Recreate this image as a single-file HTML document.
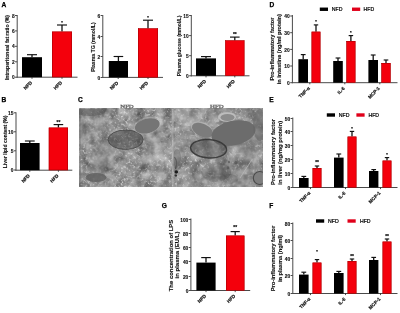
<!DOCTYPE html><html><head><meta charset="utf-8"><style>html,body{margin:0;padding:0;background:#fff;overflow:hidden}svg{display:block;filter:blur(0.3px)}</style></head><body><svg width="400" height="313" viewBox="0 0 400 313" font-family='"Liberation Sans", sans-serif'>
<rect width="400" height="313" fill="#fff"/>
<defs><filter id="tx" x="0" y="0" width="1" height="1" color-interpolation-filters="sRGB">
<feTurbulence type="fractalNoise" baseFrequency="0.11" numOctaves="3" seed="7" result="n"/>
<feColorMatrix in="n" type="matrix" values="0.5 0.5 0 0 0  0.5 0.5 0 0 0  0.5 0.5 0 0 0  0 0 0 0 1" result="g"/>
<feComponentTransfer in="g" result="base"><feFuncR type="linear" slope="0.75" intercept="0.175"/><feFuncG type="linear" slope="0.75" intercept="0.175"/><feFuncB type="linear" slope="0.75" intercept="0.175"/></feComponentTransfer>
<feTurbulence type="fractalNoise" baseFrequency="0.42" numOctaves="2" seed="21" result="s"/>
<feColorMatrix in="s" type="matrix" values="0 0 0 0 0.92  0 0 0 0 0.92  0 0 0 0 0.92  1 0 0 0 0" result="sa"/>
<feComponentTransfer in="sa" result="sp"><feFuncA type="table" tableValues="0 0 0 0 0.15 0.6 0.9 1"/></feComponentTransfer>
<feTurbulence type="fractalNoise" baseFrequency="0.035" numOctaves="2" seed="5" result="mn"/>
<feColorMatrix in="mn" type="matrix" values="0 0 0 0 0  0 0 0 0 0  0 0 0 0 0  0 1 0 0 0" result="ma"/>
<feComponentTransfer in="ma" result="mask"><feFuncA type="table" tableValues="0 0.1 0.5 1 1"/></feComponentTransfer>
<feComposite in="sp" in2="mask" operator="in" result="spm"/>
<feMerge result="m"><feMergeNode in="base"/><feMergeNode in="spm"/></feMerge>
<feGaussianBlur in="m" stdDeviation="0.3"/>
</filter><filter id="tx2" x="0" y="0" width="1" height="1" color-interpolation-filters="sRGB">
<feTurbulence type="fractalNoise" baseFrequency="0.1" numOctaves="3" seed="11" result="n"/>
<feColorMatrix in="n" type="matrix" values="0.5 0.5 0 0 0  0.5 0.5 0 0 0  0.5 0.5 0 0 0  0 0 0 0 1" result="g"/>
<feComponentTransfer in="g" result="base"><feFuncR type="linear" slope="0.65" intercept="0.235"/><feFuncG type="linear" slope="0.65" intercept="0.235"/><feFuncB type="linear" slope="0.65" intercept="0.235"/></feComponentTransfer>
<feTurbulence type="fractalNoise" baseFrequency="0.4" numOctaves="2" seed="31" result="s"/>
<feColorMatrix in="s" type="matrix" values="0 0 0 0 0.92  0 0 0 0 0.92  0 0 0 0 0.92  1 0 0 0 0" result="sa"/>
<feComponentTransfer in="sa" result="sp"><feFuncA type="table" tableValues="0 0 0 0 0.1 0.5 0.8 0.9"/></feComponentTransfer>
<feTurbulence type="fractalNoise" baseFrequency="0.035" numOctaves="2" seed="9" result="mn"/>
<feColorMatrix in="mn" type="matrix" values="0 0 0 0 0  0 0 0 0 0  0 0 0 0 0  0 1 0 0 0" result="ma"/>
<feComponentTransfer in="ma" result="mask"><feFuncA type="table" tableValues="0 0.1 0.5 1 1"/></feComponentTransfer>
<feComposite in="sp" in2="mask" operator="in" result="spm"/>
<feMerge result="m"><feMergeNode in="base"/><feMergeNode in="spm"/></feMerge>
<feGaussianBlur in="m" stdDeviation="0.3"/>
</filter><filter id="bl" x="-20%" y="-20%" width="140%" height="140%"><feGaussianBlur stdDeviation="0.6"/></filter>
<clipPath id="c1"><rect x="79" y="108.8" width="93.8" height="77.4"/></clipPath>
<clipPath id="c2"><rect x="172.8" y="108.8" width="90" height="77.4"/></clipPath>
</defs>
<rect x="79" y="108.8" width="93.8" height="77.4" filter="url(#tx)"/>
<rect x="172.8" y="108.8" width="90" height="77.4" filter="url(#tx2)"/>
<g clip-path="url(#c1)" filter="url(#bl)">
<ellipse cx="124" cy="154" rx="7" ry="4" fill="#fff" opacity="0.16"/>
<ellipse cx="90" cy="141" rx="10" ry="9" fill="#fff" opacity="0.07"/>
<ellipse cx="113" cy="117" rx="7" ry="5" fill="#fff" opacity="0.06"/>
<ellipse cx="161" cy="156" rx="12" ry="24" fill="#fff" opacity="0.13"/>
<ellipse cx="90" cy="111.5" rx="15" ry="4.5" fill="#5a5a5a" opacity="0.6"/>
<rect x="79" y="108.8" width="2" height="78" fill="#666" opacity="0.4"/>
<ellipse cx="125.6" cy="139.7" rx="17.5" ry="9.7" fill="#484848" fill-opacity="0.5" stroke="#4a4a4a" stroke-width="1" stroke-opacity="0.9"/>
<ellipse cx="147" cy="125.5" rx="13.8" ry="8.2" fill="#bbb" opacity="0.4" transform="rotate(-14 147 125.5)"/>
<ellipse cx="147.3" cy="125.9" rx="12.6" ry="7.2" fill="#747474" transform="rotate(-14 147.3 125.9)"/>
<ellipse cx="96" cy="177.5" rx="10.5" ry="4.5" fill="#5e5e5e" opacity="0.8"/>
<rect x="171.8" y="108.8" width="1.4" height="78" fill="#c4c4c4" opacity="0.6"/>
</g>
<g clip-path="url(#c2)" filter="url(#bl)">
<ellipse cx="247" cy="113" rx="9" ry="5" fill="#000" opacity="0.18"/>
<ellipse cx="221" cy="161" rx="6" ry="4" fill="#000" opacity="0.1"/>
<ellipse cx="229" cy="179" rx="9" ry="5" fill="#000" opacity="0.1"/>
<ellipse cx="216" cy="172" rx="15" ry="10" fill="#000" opacity="0.15"/>
<ellipse cx="252" cy="152" rx="8" ry="6" fill="#000" opacity="0.08"/>
<ellipse cx="182" cy="131" rx="8" ry="8" fill="#fff" opacity="0.12"/>
<ellipse cx="187" cy="116" rx="15" ry="10" fill="#fff" opacity="0.2"/>
<ellipse cx="243" cy="168" rx="11" ry="9" fill="#000" opacity="0.06"/>
<ellipse cx="227" cy="117" rx="9" ry="4.8" fill="#bdbdbd"/>
<ellipse cx="227.5" cy="117.5" rx="7" ry="3.4" fill="#8c8c8c"/>
<ellipse cx="202.3" cy="129.5" rx="12" ry="7" fill="#b5b5b5" opacity="0.7" transform="rotate(25 202.3 129.5)"/>
<ellipse cx="202.5" cy="130.2" rx="11.3" ry="6.3" fill="#7c7c7c" transform="rotate(25 202.5 130.2)"/>
<ellipse cx="233.5" cy="133" rx="22.4" ry="12.2" fill="#6c6c6c" transform="rotate(-12 233.5 133)"/>
<ellipse cx="208.6" cy="148.8" rx="18" ry="9.2" fill="#555" fill-opacity="0.45" stroke="#333" stroke-width="1.5" stroke-opacity="0.85" transform="rotate(4 208.6 148.8)"/>
<path d="M174.5 157 Q178 162 175.5 169" fill="none" stroke="#444" stroke-width="1.2" opacity="0.8"/>
<circle cx="176.3" cy="172" r="1.8" fill="#1e1e1e"/>
<circle cx="175.8" cy="175.5" r="1.3" fill="#333"/>
<circle cx="259.8" cy="178" r="6.5" fill="#7e7e7e" stroke="#4a4a4a" stroke-width="1.1"/>
<ellipse cx="260" cy="125" rx="7" ry="16" fill="#666" opacity="0.6"/>
<ellipse cx="177" cy="158" rx="4" ry="9" fill="#666" opacity="0.5"/>
<circle cx="236" cy="162.7" r="1.6" fill="#555" opacity="0.8"/>
<circle cx="228" cy="168" r="1.4" fill="#555" opacity="0.8"/>
<circle cx="229" cy="162" r="1.2" fill="#555" opacity="0.7"/>
<line x1="252.4" y1="159" x2="240" y2="178" stroke="#bbb" stroke-width="0.9" opacity="0.8"/>
<rect x="172.8" y="108.8" width="1" height="78" fill="#bbb" opacity="0.4"/>
</g>
<text x="127" y="108.2" font-size="4.6" text-anchor="middle" fill="#fff" stroke="#555" stroke-width="0.35" textLength="13.4" lengthAdjust="spacingAndGlyphs" font-family="Liberation Serif, serif">NFD</text>
<text x="216.9" y="108.2" font-size="4.6" text-anchor="middle" fill="#fff" stroke="#555" stroke-width="0.35" textLength="13.6" lengthAdjust="spacingAndGlyphs" font-family="Liberation Serif, serif">HFD</text>

<text x="4.0" y="6.86" font-size="6.6" text-anchor="middle" font-weight="bold" fill="#000" stroke="#000" stroke-width="0.25">A</text>
<text x="3.9" y="101.66" font-size="6.6" text-anchor="middle" font-weight="bold" fill="#000" stroke="#000" stroke-width="0.25">B</text>
<text x="80.5" y="101.66" font-size="6.6" text-anchor="middle" font-weight="bold" fill="#000" stroke="#000" stroke-width="0.25">C</text>
<text x="271.8" y="6.76" font-size="6.6" text-anchor="middle" font-weight="bold" fill="#000" stroke="#000" stroke-width="0.25">D</text>
<text x="271.4" y="101.56" font-size="6.6" text-anchor="middle" font-weight="bold" fill="#000" stroke="#000" stroke-width="0.25">E</text>
<text x="271.2" y="208.06" font-size="6.6" text-anchor="middle" font-weight="bold" fill="#000" stroke="#000" stroke-width="0.25">F</text>
<text x="164.3" y="208.26" font-size="6.6" text-anchor="middle" font-weight="bold" fill="#000" stroke="#000" stroke-width="0.25">G</text>
<line x1="17.2" y1="15" x2="17.2" y2="77.7" stroke="#4a4a4a" stroke-width="1"/>
<line x1="16.7" y1="77.2" x2="77.5" y2="77.2" stroke="#4a4a4a" stroke-width="1"/>
<line x1="15.0" y1="77.2" x2="17.2" y2="77.2" stroke="#4a4a4a" stroke-width="1"/>
<text x="14.6" y="79.3" font-size="4.8" text-anchor="end" font-weight="bold" fill="#111" stroke="#111" stroke-width="0.12">0</text>
<line x1="15.0" y1="61.8" x2="17.2" y2="61.8" stroke="#4a4a4a" stroke-width="1"/>
<text x="14.6" y="63.9" font-size="4.8" text-anchor="end" font-weight="bold" fill="#111" stroke="#111" stroke-width="0.12">2</text>
<line x1="15.0" y1="46.3" x2="17.2" y2="46.3" stroke="#4a4a4a" stroke-width="1"/>
<text x="14.6" y="48.4" font-size="4.8" text-anchor="end" font-weight="bold" fill="#111" stroke="#111" stroke-width="0.12">4</text>
<line x1="15.0" y1="30.9" x2="17.2" y2="30.9" stroke="#4a4a4a" stroke-width="1"/>
<text x="14.6" y="33.0" font-size="4.8" text-anchor="end" font-weight="bold" fill="#111" stroke="#111" stroke-width="0.12">6</text>
<line x1="15.0" y1="15.5" x2="17.2" y2="15.5" stroke="#4a4a4a" stroke-width="1"/>
<text x="14.6" y="17.6" font-size="4.8" text-anchor="end" font-weight="bold" fill="#111" stroke="#111" stroke-width="0.12">8</text>
<line x1="32.0" y1="54.7" x2="32.0" y2="57.2" stroke="#111" stroke-width="1.3"/>
<line x1="27.0" y1="54.7" x2="37.0" y2="54.7" stroke="#111" stroke-width="1.15"/>
<rect x="22" y="57.2" width="20" height="20.0" fill="#000"/>
<line x1="62.0" y1="25" x2="62.0" y2="31.6" stroke="#111" stroke-width="1.3"/>
<line x1="57.0" y1="25" x2="67.0" y2="25" stroke="#111" stroke-width="1.15"/>
<rect x="52" y="31.6" width="20" height="45.6" fill="#f4000c"/>
<rect x="52.25" y="31.85" width="19.5" height="45.1" fill="none" stroke="#900" stroke-width="0.5"/>
<text x="62.0" y="24.08" font-size="4.1" text-anchor="middle" font-weight="bold" fill="#111" stroke="#111" stroke-width="0.2">*</text>
<line x1="32" y1="77.2" x2="32" y2="78.8" stroke="#222" stroke-width="0.8"/>
<text x="0" y="0" font-size="4.7" text-anchor="end" font-weight="bold" fill="#111" stroke="#111" stroke-width="0.2" transform="translate(32.4,83.10000000000001) rotate(-45)">NFD</text>
<line x1="62" y1="77.2" x2="62" y2="78.8" stroke="#222" stroke-width="0.8"/>
<text x="0" y="0" font-size="4.7" text-anchor="end" font-weight="bold" fill="#111" stroke="#111" stroke-width="0.2" transform="translate(62.4,83.10000000000001) rotate(-45)">HFD</text>
<text x="0" y="0" font-size="5" text-anchor="middle" font-weight="bold" fill="#111" stroke="#111" stroke-width="0.12" textLength="65" lengthAdjust="spacingAndGlyphs" transform="translate(9.2,47.5) rotate(-90)">Intraperitoneal fat ratio (%)</text>
<line x1="102.8" y1="15" x2="102.8" y2="77.9" stroke="#4a4a4a" stroke-width="1"/>
<line x1="102.3" y1="77.4" x2="163" y2="77.4" stroke="#4a4a4a" stroke-width="1"/>
<line x1="100.6" y1="77.5" x2="102.8" y2="77.5" stroke="#4a4a4a" stroke-width="1"/>
<text x="100.2" y="79.6" font-size="4.8" text-anchor="end" font-weight="bold" fill="#111" stroke="#111" stroke-width="0.12">0</text>
<line x1="100.6" y1="56.5" x2="102.8" y2="56.5" stroke="#4a4a4a" stroke-width="1"/>
<text x="100.2" y="58.6" font-size="4.8" text-anchor="end" font-weight="bold" fill="#111" stroke="#111" stroke-width="0.12">2</text>
<line x1="100.6" y1="36.5" x2="102.8" y2="36.5" stroke="#4a4a4a" stroke-width="1"/>
<text x="100.2" y="38.6" font-size="4.8" text-anchor="end" font-weight="bold" fill="#111" stroke="#111" stroke-width="0.12">4</text>
<line x1="100.6" y1="15.5" x2="102.8" y2="15.5" stroke="#4a4a4a" stroke-width="1"/>
<text x="100.2" y="17.6" font-size="4.8" text-anchor="end" font-weight="bold" fill="#111" stroke="#111" stroke-width="0.12">6</text>
<line x1="118.4" y1="56.5" x2="118.4" y2="61" stroke="#111" stroke-width="1.3"/>
<line x1="113.60000000000001" y1="56.5" x2="123.2" y2="56.5" stroke="#111" stroke-width="1.15"/>
<rect x="108.8" y="61" width="19.200000000000003" height="16.400000000000006" fill="#000"/>
<line x1="148.0" y1="20.2" x2="148.0" y2="28.4" stroke="#111" stroke-width="1.3"/>
<line x1="143.0" y1="20.2" x2="153.0" y2="20.2" stroke="#111" stroke-width="1.15"/>
<rect x="138" y="28.4" width="20" height="49.00000000000001" fill="#f4000c"/>
<rect x="138.25" y="28.65" width="19.5" height="48.50000000000001" fill="none" stroke="#900" stroke-width="0.5"/>
<text x="148.0" y="19.38" font-size="4.1" text-anchor="middle" font-weight="bold" fill="#111" stroke="#111" stroke-width="0.2">*</text>
<line x1="118.2" y1="77.4" x2="118.2" y2="79.0" stroke="#222" stroke-width="0.8"/>
<text x="0" y="0" font-size="4.7" text-anchor="end" font-weight="bold" fill="#111" stroke="#111" stroke-width="0.2" transform="translate(118.60000000000001,83.30000000000001) rotate(-45)">NFD</text>
<line x1="148" y1="77.4" x2="148" y2="79.0" stroke="#222" stroke-width="0.8"/>
<text x="0" y="0" font-size="4.7" text-anchor="end" font-weight="bold" fill="#111" stroke="#111" stroke-width="0.2" transform="translate(148.4,83.30000000000001) rotate(-45)">HFD</text>
<text x="0" y="0" font-size="5" text-anchor="middle" font-weight="bold" fill="#111" stroke="#111" stroke-width="0.12" textLength="49.5" lengthAdjust="spacingAndGlyphs" transform="translate(95.2,47.1) rotate(-90)">Plasma TG (mmol/L)</text>
<line x1="191.3" y1="15" x2="191.3" y2="76.3" stroke="#4a4a4a" stroke-width="1"/>
<line x1="190.8" y1="75.8" x2="249.5" y2="75.8" stroke="#4a4a4a" stroke-width="1"/>
<line x1="189.10000000000002" y1="75.8" x2="191.3" y2="75.8" stroke="#4a4a4a" stroke-width="1"/>
<text x="188.70000000000002" y="77.89999999999999" font-size="4.8" text-anchor="end" font-weight="bold" fill="#111" stroke="#111" stroke-width="0.12">0</text>
<line x1="189.10000000000002" y1="55.7" x2="191.3" y2="55.7" stroke="#4a4a4a" stroke-width="1"/>
<text x="188.70000000000002" y="57.800000000000004" font-size="4.8" text-anchor="end" font-weight="bold" fill="#111" stroke="#111" stroke-width="0.12">5</text>
<line x1="189.10000000000002" y1="35.6" x2="191.3" y2="35.6" stroke="#4a4a4a" stroke-width="1"/>
<text x="188.70000000000002" y="37.7" font-size="4.8" text-anchor="end" font-weight="bold" fill="#111" stroke="#111" stroke-width="0.12">10</text>
<line x1="189.10000000000002" y1="15.5" x2="191.3" y2="15.5" stroke="#4a4a4a" stroke-width="1"/>
<text x="188.70000000000002" y="17.6" font-size="4.8" text-anchor="end" font-weight="bold" fill="#111" stroke="#111" stroke-width="0.12">15</text>
<line x1="206.0" y1="56.6" x2="206.0" y2="58.4" stroke="#111" stroke-width="1.3"/>
<line x1="201.0" y1="56.6" x2="211.0" y2="56.6" stroke="#111" stroke-width="1.15"/>
<rect x="196" y="58.4" width="20" height="17.4" fill="#000"/>
<line x1="234.8" y1="37.1" x2="234.8" y2="40.4" stroke="#111" stroke-width="1.3"/>
<line x1="230.0" y1="37.1" x2="239.60000000000002" y2="37.1" stroke="#111" stroke-width="1.15"/>
<rect x="225.2" y="40.4" width="19.200000000000017" height="35.4" fill="#f4000c"/>
<rect x="225.45" y="40.65" width="18.700000000000017" height="34.9" fill="none" stroke="#900" stroke-width="0.5"/>
<text x="234.8" y="35.88" font-size="4.8" text-anchor="middle" font-weight="bold" fill="#111" stroke="#111" stroke-width="0.2">**</text>
<line x1="206" y1="75.8" x2="206" y2="77.39999999999999" stroke="#222" stroke-width="0.8"/>
<text x="0" y="0" font-size="4.7" text-anchor="end" font-weight="bold" fill="#111" stroke="#111" stroke-width="0.2" transform="translate(206.4,81.7) rotate(-45)">NFD</text>
<line x1="234.8" y1="75.8" x2="234.8" y2="77.39999999999999" stroke="#222" stroke-width="0.8"/>
<text x="0" y="0" font-size="4.7" text-anchor="end" font-weight="bold" fill="#111" stroke="#111" stroke-width="0.2" transform="translate(235.20000000000002,81.7) rotate(-45)">HFD</text>
<text x="0" y="0" font-size="5" text-anchor="middle" font-weight="bold" fill="#111" stroke="#111" stroke-width="0.12" textLength="60.5" lengthAdjust="spacingAndGlyphs" transform="translate(180.8,45.9) rotate(-90)">Plasma glucose (mmol/L)</text>
<line x1="16" y1="112.3" x2="16" y2="170.7" stroke="#4a4a4a" stroke-width="1"/>
<line x1="15.5" y1="170.2" x2="72.3" y2="170.2" stroke="#4a4a4a" stroke-width="1"/>
<line x1="13.8" y1="170.0" x2="16" y2="170.0" stroke="#4a4a4a" stroke-width="1"/>
<text x="13.4" y="172.1" font-size="4.8" text-anchor="end" font-weight="bold" fill="#111" stroke="#111" stroke-width="0.12">0</text>
<line x1="13.8" y1="150.8" x2="16" y2="150.8" stroke="#4a4a4a" stroke-width="1"/>
<text x="13.4" y="152.9" font-size="4.8" text-anchor="end" font-weight="bold" fill="#111" stroke="#111" stroke-width="0.12">5</text>
<line x1="13.8" y1="131.8" x2="16" y2="131.8" stroke="#4a4a4a" stroke-width="1"/>
<text x="13.4" y="133.9" font-size="4.8" text-anchor="end" font-weight="bold" fill="#111" stroke="#111" stroke-width="0.12">10</text>
<line x1="13.8" y1="112.8" x2="16" y2="112.8" stroke="#4a4a4a" stroke-width="1"/>
<text x="13.4" y="114.89999999999999" font-size="4.8" text-anchor="end" font-weight="bold" fill="#111" stroke="#111" stroke-width="0.12">15</text>
<line x1="29.8" y1="141" x2="29.8" y2="143" stroke="#111" stroke-width="1.3"/>
<line x1="24.9" y1="141" x2="34.7" y2="141" stroke="#111" stroke-width="1.15"/>
<rect x="20" y="143" width="19.6" height="27.19999999999999" fill="#000"/>
<line x1="58.4" y1="124.6" x2="58.4" y2="127.6" stroke="#111" stroke-width="1.3"/>
<line x1="53.599999999999994" y1="124.6" x2="63.2" y2="124.6" stroke="#111" stroke-width="1.15"/>
<rect x="48.8" y="127.6" width="19.200000000000003" height="42.599999999999994" fill="#f4000c"/>
<rect x="49.05" y="127.85" width="18.700000000000003" height="42.099999999999994" fill="none" stroke="#900" stroke-width="0.5"/>
<text x="58.4" y="123.78" font-size="4.8" text-anchor="middle" font-weight="bold" fill="#111" stroke="#111" stroke-width="0.2">**</text>
<line x1="29.8" y1="170.2" x2="29.8" y2="171.79999999999998" stroke="#222" stroke-width="0.8"/>
<text x="0" y="0" font-size="4.7" text-anchor="end" font-weight="bold" fill="#111" stroke="#111" stroke-width="0.2" transform="translate(30.2,176.1) rotate(-45)">NFD</text>
<line x1="58.4" y1="170.2" x2="58.4" y2="171.79999999999998" stroke="#222" stroke-width="0.8"/>
<text x="0" y="0" font-size="4.7" text-anchor="end" font-weight="bold" fill="#111" stroke="#111" stroke-width="0.2" transform="translate(58.8,176.1) rotate(-45)">HFD</text>
<text x="0" y="0" font-size="5" text-anchor="middle" font-weight="bold" fill="#111" stroke="#111" stroke-width="0.12" textLength="52.5" lengthAdjust="spacingAndGlyphs" transform="translate(6.8,141.9) rotate(-90)">Liver lipid content (%)</text>
<line x1="190.9" y1="218.5" x2="190.9" y2="291.0" stroke="#4a4a4a" stroke-width="1"/>
<line x1="190.4" y1="290.5" x2="250.2" y2="290.5" stroke="#4a4a4a" stroke-width="1"/>
<line x1="188.70000000000002" y1="290.5" x2="190.9" y2="290.5" stroke="#4a4a4a" stroke-width="1"/>
<text x="188.3" y="292.6" font-size="4.8" text-anchor="end" font-weight="bold" fill="#111" stroke="#111" stroke-width="0.12">0</text>
<line x1="188.70000000000002" y1="276.5" x2="190.9" y2="276.5" stroke="#4a4a4a" stroke-width="1"/>
<text x="188.3" y="278.6" font-size="4.8" text-anchor="end" font-weight="bold" fill="#111" stroke="#111" stroke-width="0.12">20</text>
<line x1="188.70000000000002" y1="261.5" x2="190.9" y2="261.5" stroke="#4a4a4a" stroke-width="1"/>
<text x="188.3" y="263.6" font-size="4.8" text-anchor="end" font-weight="bold" fill="#111" stroke="#111" stroke-width="0.12">40</text>
<line x1="188.70000000000002" y1="247.5" x2="190.9" y2="247.5" stroke="#4a4a4a" stroke-width="1"/>
<text x="188.3" y="249.6" font-size="4.8" text-anchor="end" font-weight="bold" fill="#111" stroke="#111" stroke-width="0.12">60</text>
<line x1="188.70000000000002" y1="233.5" x2="190.9" y2="233.5" stroke="#4a4a4a" stroke-width="1"/>
<text x="188.3" y="235.6" font-size="4.8" text-anchor="end" font-weight="bold" fill="#111" stroke="#111" stroke-width="0.12">80</text>
<line x1="188.70000000000002" y1="219.5" x2="190.9" y2="219.5" stroke="#4a4a4a" stroke-width="1"/>
<text x="188.3" y="221.6" font-size="4.8" text-anchor="end" font-weight="bold" fill="#111" stroke="#111" stroke-width="0.12">100</text>
<line x1="206.0" y1="257.6" x2="206.0" y2="262.6" stroke="#111" stroke-width="1.3"/>
<line x1="201.2" y1="257.6" x2="210.8" y2="257.6" stroke="#111" stroke-width="1.15"/>
<rect x="196.4" y="262.6" width="19.19999999999999" height="27.899999999999977" fill="#000"/>
<line x1="235.2" y1="231.6" x2="235.2" y2="235.6" stroke="#111" stroke-width="1.3"/>
<line x1="230.6" y1="231.6" x2="239.79999999999998" y2="231.6" stroke="#111" stroke-width="1.15"/>
<rect x="226" y="235.6" width="18.400000000000006" height="54.900000000000006" fill="#f4000c"/>
<rect x="226.25" y="235.85" width="17.900000000000006" height="54.400000000000006" fill="none" stroke="#900" stroke-width="0.5"/>
<text x="235.2" y="229.38" font-size="4.8" text-anchor="middle" font-weight="bold" fill="#111" stroke="#111" stroke-width="0.2">**</text>
<line x1="206" y1="290.5" x2="206" y2="292.1" stroke="#222" stroke-width="0.8"/>
<text x="0" y="0" font-size="4.7" text-anchor="end" font-weight="bold" fill="#111" stroke="#111" stroke-width="0.2" transform="translate(206.4,296.4) rotate(-45)">NFD</text>
<line x1="235.2" y1="290.5" x2="235.2" y2="292.1" stroke="#222" stroke-width="0.8"/>
<text x="0" y="0" font-size="4.7" text-anchor="end" font-weight="bold" fill="#111" stroke="#111" stroke-width="0.2" transform="translate(235.6,296.4) rotate(-45)">HFD</text>
<text x="0" y="0" font-size="5" text-anchor="middle" font-weight="bold" fill="#111" stroke="#111" stroke-width="0.12" textLength="71.5" lengthAdjust="spacingAndGlyphs" transform="translate(172.5,255.5) rotate(-90)">The concentration of LPS</text>
<text x="0" y="0" font-size="5" text-anchor="middle" font-weight="bold" fill="#111" stroke="#111" stroke-width="0.12" textLength="47" lengthAdjust="spacingAndGlyphs" transform="translate(179.3,255) rotate(-90)">in plasma (EU/L)</text>
<line x1="292.4" y1="15" x2="292.4" y2="83.2" stroke="#4a4a4a" stroke-width="1"/>
<line x1="291.9" y1="82.7" x2="397.5" y2="82.7" stroke="#4a4a4a" stroke-width="1"/>
<line x1="290.2" y1="82.7" x2="292.4" y2="82.7" stroke="#4a4a4a" stroke-width="1"/>
<text x="289.79999999999995" y="84.8" font-size="4.9" text-anchor="end" font-weight="bold" fill="#111" stroke="#111" stroke-width="0.12">0</text>
<line x1="290.2" y1="66.0" x2="292.4" y2="66.0" stroke="#4a4a4a" stroke-width="1"/>
<text x="289.79999999999995" y="68.1" font-size="4.9" text-anchor="end" font-weight="bold" fill="#111" stroke="#111" stroke-width="0.12">10</text>
<line x1="290.2" y1="49.4" x2="292.4" y2="49.4" stroke="#4a4a4a" stroke-width="1"/>
<text x="289.79999999999995" y="51.5" font-size="4.9" text-anchor="end" font-weight="bold" fill="#111" stroke="#111" stroke-width="0.12">20</text>
<line x1="290.2" y1="32.7" x2="292.4" y2="32.7" stroke="#4a4a4a" stroke-width="1"/>
<text x="289.79999999999995" y="34.800000000000004" font-size="4.9" text-anchor="end" font-weight="bold" fill="#111" stroke="#111" stroke-width="0.12">30</text>
<line x1="290.2" y1="16.0" x2="292.4" y2="16.0" stroke="#4a4a4a" stroke-width="1"/>
<text x="289.79999999999995" y="18.1" font-size="4.9" text-anchor="end" font-weight="bold" fill="#111" stroke="#111" stroke-width="0.12">40</text>
<line x1="303.2" y1="54.6" x2="303.2" y2="59.2" stroke="#111" stroke-width="1.3"/>
<line x1="300.79999999999995" y1="54.6" x2="305.6" y2="54.6" stroke="#111" stroke-width="1.15"/>
<rect x="298.4" y="59.2" width="9.600000000000023" height="23.5" fill="#000"/>
<line x1="316.0" y1="24.9" x2="316.0" y2="31.7" stroke="#111" stroke-width="1.3"/>
<line x1="313.8" y1="24.9" x2="318.2" y2="24.9" stroke="#111" stroke-width="1.15"/>
<rect x="311.6" y="31.7" width="8.799999999999955" height="51.0" fill="#f4000c"/>
<rect x="311.85" y="31.95" width="8.299999999999955" height="50.5" fill="none" stroke="#900" stroke-width="0.5"/>
<text x="316.0" y="23.38" font-size="4.1" text-anchor="middle" font-weight="bold" fill="#111" stroke="#111" stroke-width="0.2">*</text>
<line x1="338.0" y1="58" x2="338.0" y2="61" stroke="#111" stroke-width="1.3"/>
<line x1="335.6" y1="58" x2="340.4" y2="58" stroke="#111" stroke-width="1.15"/>
<rect x="333.2" y="61" width="9.600000000000023" height="21.700000000000003" fill="#000"/>
<line x1="350.9" y1="35.6" x2="350.9" y2="41" stroke="#111" stroke-width="1.3"/>
<line x1="348.65" y1="35.6" x2="353.15" y2="35.6" stroke="#111" stroke-width="1.15"/>
<rect x="346.4" y="41" width="9.0" height="41.7" fill="#f4000c"/>
<rect x="346.65" y="41.25" width="8.5" height="41.2" fill="none" stroke="#900" stroke-width="0.5"/>
<text x="350.9" y="33.68" font-size="4.1" text-anchor="middle" font-weight="bold" fill="#111" stroke="#111" stroke-width="0.2">*</text>
<line x1="373.2" y1="55" x2="373.2" y2="60" stroke="#111" stroke-width="1.3"/>
<line x1="370.79999999999995" y1="55" x2="375.6" y2="55" stroke="#111" stroke-width="1.15"/>
<rect x="368.4" y="60" width="9.600000000000023" height="22.700000000000003" fill="#000"/>
<line x1="386.0" y1="60" x2="386.0" y2="63" stroke="#111" stroke-width="1.3"/>
<line x1="383.7" y1="60" x2="388.3" y2="60" stroke="#111" stroke-width="1.15"/>
<rect x="381.4" y="63" width="9.200000000000045" height="19.700000000000003" fill="#f4000c"/>
<rect x="381.65" y="63.25" width="8.700000000000045" height="19.200000000000003" fill="none" stroke="#900" stroke-width="0.5"/>
<line x1="309.8" y1="82.7" x2="309.8" y2="84.3" stroke="#222" stroke-width="0.8"/>
<text x="0" y="0" font-size="4.7" text-anchor="end" font-weight="bold" fill="#111" stroke="#111" stroke-width="0.2" transform="translate(310.2,88.60000000000001) rotate(-45)">TNF-α</text>
<line x1="344.8" y1="82.7" x2="344.8" y2="84.3" stroke="#222" stroke-width="0.8"/>
<text x="0" y="0" font-size="4.7" text-anchor="end" font-weight="bold" fill="#111" stroke="#111" stroke-width="0.2" transform="translate(345.2,88.60000000000001) rotate(-45)">IL-6</text>
<line x1="379.8" y1="82.7" x2="379.8" y2="84.3" stroke="#222" stroke-width="0.8"/>
<text x="0" y="0" font-size="4.7" text-anchor="end" font-weight="bold" fill="#111" stroke="#111" stroke-width="0.2" transform="translate(380.2,88.60000000000001) rotate(-45)">MCP-1</text>
<text x="0" y="0" font-size="5" text-anchor="middle" font-weight="bold" fill="#111" stroke="#111" stroke-width="0.12" textLength="63" lengthAdjust="spacingAndGlyphs" transform="translate(273.6,49.1) rotate(-90)">Pro-inflammatory factor</text>
<text x="0" y="0" font-size="5" text-anchor="middle" font-weight="bold" fill="#111" stroke="#111" stroke-width="0.12" textLength="70" lengthAdjust="spacingAndGlyphs" transform="translate(280.7,49.2) rotate(-90)">in intestine (ng/ml protein)</text>
<rect x="319.8" y="7.55" width="8.2" height="3.4" fill="#000"/>
<text x="331.8" y="11.1" font-size="5.2" font-weight="normal" fill="#000" stroke="#000" stroke-width="0.2">NFD</text>
<rect x="352.0" y="7.55" width="8.2" height="3.4" fill="#e0001a"/>
<text x="363.6" y="11.1" font-size="5.2" font-weight="normal" fill="#000" stroke="#000" stroke-width="0.2">HFD</text>
<line x1="292.8" y1="117.5" x2="292.8" y2="188.0" stroke="#4a4a4a" stroke-width="1"/>
<line x1="292.3" y1="187.5" x2="397.5" y2="187.5" stroke="#4a4a4a" stroke-width="1"/>
<line x1="290.6" y1="187.5" x2="292.8" y2="187.5" stroke="#4a4a4a" stroke-width="1"/>
<text x="290.2" y="189.6" font-size="4.9" text-anchor="end" font-weight="bold" fill="#111" stroke="#111" stroke-width="0.12">0</text>
<line x1="290.6" y1="173.5" x2="292.8" y2="173.5" stroke="#4a4a4a" stroke-width="1"/>
<text x="290.2" y="175.6" font-size="4.9" text-anchor="end" font-weight="bold" fill="#111" stroke="#111" stroke-width="0.12">10</text>
<line x1="290.6" y1="159.5" x2="292.8" y2="159.5" stroke="#4a4a4a" stroke-width="1"/>
<text x="290.2" y="161.6" font-size="4.9" text-anchor="end" font-weight="bold" fill="#111" stroke="#111" stroke-width="0.12">20</text>
<line x1="290.6" y1="145.5" x2="292.8" y2="145.5" stroke="#4a4a4a" stroke-width="1"/>
<text x="290.2" y="147.6" font-size="4.9" text-anchor="end" font-weight="bold" fill="#111" stroke="#111" stroke-width="0.12">30</text>
<line x1="290.6" y1="131.5" x2="292.8" y2="131.5" stroke="#4a4a4a" stroke-width="1"/>
<text x="290.2" y="133.6" font-size="4.9" text-anchor="end" font-weight="bold" fill="#111" stroke="#111" stroke-width="0.12">40</text>
<line x1="290.6" y1="118.5" x2="292.8" y2="118.5" stroke="#4a4a4a" stroke-width="1"/>
<text x="290.2" y="120.6" font-size="4.9" text-anchor="end" font-weight="bold" fill="#111" stroke="#111" stroke-width="0.12">50</text>
<line x1="303.8" y1="176.4" x2="303.8" y2="178" stroke="#111" stroke-width="1.3"/>
<line x1="301.4" y1="176.4" x2="306.20000000000005" y2="176.4" stroke="#111" stroke-width="1.15"/>
<rect x="299" y="178" width="9.600000000000023" height="9.5" fill="#000"/>
<line x1="317.0" y1="166" x2="317.0" y2="168" stroke="#111" stroke-width="1.3"/>
<line x1="314.8" y1="166" x2="319.2" y2="166" stroke="#111" stroke-width="1.15"/>
<rect x="312.6" y="168" width="8.799999999999955" height="19.5" fill="#f4000c"/>
<rect x="312.85" y="168.25" width="8.299999999999955" height="19.0" fill="none" stroke="#900" stroke-width="0.5"/>
<text x="317.0" y="163.78" font-size="4.8" text-anchor="middle" font-weight="bold" fill="#111" stroke="#111" stroke-width="0.2">**</text>
<line x1="338.8" y1="154" x2="338.8" y2="157.6" stroke="#111" stroke-width="1.3"/>
<line x1="336.4" y1="154" x2="341.20000000000005" y2="154" stroke="#111" stroke-width="1.15"/>
<rect x="334" y="157.6" width="9.600000000000023" height="29.900000000000006" fill="#000"/>
<line x1="352.0" y1="131.4" x2="352.0" y2="136.6" stroke="#111" stroke-width="1.3"/>
<line x1="349.8" y1="131.4" x2="354.2" y2="131.4" stroke="#111" stroke-width="1.15"/>
<rect x="347.6" y="136.6" width="8.799999999999955" height="50.900000000000006" fill="#f4000c"/>
<rect x="347.85" y="136.85" width="8.299999999999955" height="50.400000000000006" fill="none" stroke="#900" stroke-width="0.5"/>
<text x="352.0" y="129.58" font-size="4.1" text-anchor="middle" font-weight="bold" fill="#111" stroke="#111" stroke-width="0.2">*</text>
<line x1="373.7" y1="169.6" x2="373.7" y2="171" stroke="#111" stroke-width="1.3"/>
<line x1="371.35" y1="169.6" x2="376.04999999999995" y2="169.6" stroke="#111" stroke-width="1.15"/>
<rect x="369" y="171" width="9.399999999999977" height="16.5" fill="#000"/>
<line x1="387.0" y1="157.6" x2="387.0" y2="160.6" stroke="#111" stroke-width="1.3"/>
<line x1="384.8" y1="157.6" x2="389.2" y2="157.6" stroke="#111" stroke-width="1.15"/>
<rect x="382.6" y="160.6" width="8.799999999999955" height="26.900000000000006" fill="#f4000c"/>
<rect x="382.85" y="160.85" width="8.299999999999955" height="26.400000000000006" fill="none" stroke="#900" stroke-width="0.5"/>
<text x="387.0" y="156.38" font-size="4.1" text-anchor="middle" font-weight="bold" fill="#111" stroke="#111" stroke-width="0.2">*</text>
<line x1="310.5" y1="187.5" x2="310.5" y2="189.1" stroke="#222" stroke-width="0.8"/>
<text x="0" y="0" font-size="4.7" text-anchor="end" font-weight="bold" fill="#111" stroke="#111" stroke-width="0.2" transform="translate(310.9,193.4) rotate(-45)">TNF-α</text>
<line x1="345.5" y1="187.5" x2="345.5" y2="189.1" stroke="#222" stroke-width="0.8"/>
<text x="0" y="0" font-size="4.7" text-anchor="end" font-weight="bold" fill="#111" stroke="#111" stroke-width="0.2" transform="translate(345.9,193.4) rotate(-45)">IL-6</text>
<line x1="380.5" y1="187.5" x2="380.5" y2="189.1" stroke="#222" stroke-width="0.8"/>
<text x="0" y="0" font-size="4.7" text-anchor="end" font-weight="bold" fill="#111" stroke="#111" stroke-width="0.2" transform="translate(380.9,193.4) rotate(-45)">MCP-1</text>
<text x="0" y="0" font-size="5" text-anchor="middle" font-weight="bold" fill="#111" stroke="#111" stroke-width="0.12" textLength="66" lengthAdjust="spacingAndGlyphs" transform="translate(274.5,151.9) rotate(-90)">Pro-inflammatory factor</text>
<text x="0" y="0" font-size="5" text-anchor="middle" font-weight="bold" fill="#111" stroke="#111" stroke-width="0.12" textLength="64" lengthAdjust="spacingAndGlyphs" transform="translate(281.6,152.7) rotate(-90)">in liver (ng/mg protein)</text>
<rect x="326.8" y="113.3" width="8.2" height="3.4" fill="#000"/>
<text x="338.8" y="116.85" font-size="5.2" font-weight="normal" fill="#000" stroke="#000" stroke-width="0.2">NFD</text>
<rect x="356.40000000000003" y="113.3" width="8.2" height="3.4" fill="#e0001a"/>
<text x="368.40000000000003" y="116.85" font-size="5.2" font-weight="normal" fill="#000" stroke="#000" stroke-width="0.2">HFD</text>
<line x1="292.8" y1="222.5" x2="292.8" y2="294.0" stroke="#4a4a4a" stroke-width="1"/>
<line x1="292.3" y1="293.5" x2="397.5" y2="293.5" stroke="#4a4a4a" stroke-width="1"/>
<line x1="290.6" y1="293.5" x2="292.8" y2="293.5" stroke="#4a4a4a" stroke-width="1"/>
<text x="290.2" y="295.6" font-size="4.9" text-anchor="end" font-weight="bold" fill="#111" stroke="#111" stroke-width="0.12">0</text>
<line x1="290.6" y1="275.5" x2="292.8" y2="275.5" stroke="#4a4a4a" stroke-width="1"/>
<text x="290.2" y="277.6" font-size="4.9" text-anchor="end" font-weight="bold" fill="#111" stroke="#111" stroke-width="0.12">20</text>
<line x1="290.6" y1="258.5" x2="292.8" y2="258.5" stroke="#4a4a4a" stroke-width="1"/>
<text x="290.2" y="260.6" font-size="4.9" text-anchor="end" font-weight="bold" fill="#111" stroke="#111" stroke-width="0.12">40</text>
<line x1="290.6" y1="240.5" x2="292.8" y2="240.5" stroke="#4a4a4a" stroke-width="1"/>
<text x="290.2" y="242.6" font-size="4.9" text-anchor="end" font-weight="bold" fill="#111" stroke="#111" stroke-width="0.12">60</text>
<line x1="290.6" y1="223.5" x2="292.8" y2="223.5" stroke="#4a4a4a" stroke-width="1"/>
<text x="290.2" y="225.6" font-size="4.9" text-anchor="end" font-weight="bold" fill="#111" stroke="#111" stroke-width="0.12">80</text>
<line x1="303.8" y1="272.2" x2="303.8" y2="274.6" stroke="#111" stroke-width="1.3"/>
<line x1="301.4" y1="272.2" x2="306.20000000000005" y2="272.2" stroke="#111" stroke-width="1.15"/>
<rect x="299" y="274.6" width="9.600000000000023" height="18.899999999999977" fill="#000"/>
<line x1="317.0" y1="259.6" x2="317.0" y2="262.6" stroke="#111" stroke-width="1.3"/>
<line x1="314.8" y1="259.6" x2="319.2" y2="259.6" stroke="#111" stroke-width="1.15"/>
<rect x="312.6" y="262.6" width="8.799999999999955" height="30.899999999999977" fill="#f4000c"/>
<rect x="312.85" y="262.85" width="8.299999999999955" height="30.399999999999977" fill="none" stroke="#900" stroke-width="0.5"/>
<text x="317.0" y="253.38" font-size="4.1" text-anchor="middle" font-weight="bold" fill="#111" stroke="#111" stroke-width="0.2">*</text>
<line x1="338.8" y1="271.4" x2="338.8" y2="273" stroke="#111" stroke-width="1.3"/>
<line x1="336.4" y1="271.4" x2="341.20000000000005" y2="271.4" stroke="#111" stroke-width="1.15"/>
<rect x="334" y="273" width="9.600000000000023" height="20.5" fill="#000"/>
<line x1="352.0" y1="259" x2="352.0" y2="261" stroke="#111" stroke-width="1.3"/>
<line x1="349.8" y1="259" x2="354.2" y2="259" stroke="#111" stroke-width="1.15"/>
<rect x="347.6" y="261" width="8.799999999999955" height="32.5" fill="#f4000c"/>
<rect x="347.85" y="261.25" width="8.299999999999955" height="32.0" fill="none" stroke="#900" stroke-width="0.5"/>
<text x="352.0" y="258.18" font-size="4.8" text-anchor="middle" font-weight="bold" fill="#111" stroke="#111" stroke-width="0.2">**</text>
<line x1="373.7" y1="257.4" x2="373.7" y2="260" stroke="#111" stroke-width="1.3"/>
<line x1="371.35" y1="257.4" x2="376.04999999999995" y2="257.4" stroke="#111" stroke-width="1.15"/>
<rect x="369" y="260" width="9.399999999999977" height="33.5" fill="#000"/>
<line x1="387.0" y1="239" x2="387.0" y2="241.6" stroke="#111" stroke-width="1.3"/>
<line x1="384.8" y1="239" x2="389.2" y2="239" stroke="#111" stroke-width="1.15"/>
<rect x="382.6" y="241.6" width="8.799999999999955" height="51.900000000000006" fill="#f4000c"/>
<rect x="382.85" y="241.85" width="8.299999999999955" height="51.400000000000006" fill="none" stroke="#900" stroke-width="0.5"/>
<text x="387.0" y="238.38" font-size="4.8" text-anchor="middle" font-weight="bold" fill="#111" stroke="#111" stroke-width="0.2">**</text>
<line x1="310.5" y1="293.5" x2="310.5" y2="295.1" stroke="#222" stroke-width="0.8"/>
<text x="0" y="0" font-size="4.7" text-anchor="end" font-weight="bold" fill="#111" stroke="#111" stroke-width="0.2" transform="translate(310.9,299.4) rotate(-45)">TNF-α</text>
<line x1="345.5" y1="293.5" x2="345.5" y2="295.1" stroke="#222" stroke-width="0.8"/>
<text x="0" y="0" font-size="4.7" text-anchor="end" font-weight="bold" fill="#111" stroke="#111" stroke-width="0.2" transform="translate(345.9,299.4) rotate(-45)">IL-6</text>
<line x1="380.5" y1="293.5" x2="380.5" y2="295.1" stroke="#222" stroke-width="0.8"/>
<text x="0" y="0" font-size="4.7" text-anchor="end" font-weight="bold" fill="#111" stroke="#111" stroke-width="0.2" transform="translate(380.9,299.4) rotate(-45)">MCP-1</text>
<text x="0" y="0" font-size="5" text-anchor="middle" font-weight="bold" fill="#111" stroke="#111" stroke-width="0.12" textLength="65.5" lengthAdjust="spacingAndGlyphs" transform="translate(274.5,258.6) rotate(-90)">Pro-inflammatory factor</text>
<text x="0" y="0" font-size="5" text-anchor="middle" font-weight="bold" fill="#111" stroke="#111" stroke-width="0.12" textLength="47" lengthAdjust="spacingAndGlyphs" transform="translate(281.6,258.6) rotate(-90)">in plasma (ng/ml)</text>
<rect x="316.0" y="219.3" width="8.2" height="3.4" fill="#000"/>
<text x="328.0" y="222.85" font-size="5.2" font-weight="normal" fill="#000" stroke="#000" stroke-width="0.2">NFD</text>
<rect x="347.5" y="219.3" width="8.2" height="3.4" fill="#e0001a"/>
<text x="359.9" y="222.85" font-size="5.2" font-weight="normal" fill="#000" stroke="#000" stroke-width="0.2">HFD</text>
</svg></body></html>
